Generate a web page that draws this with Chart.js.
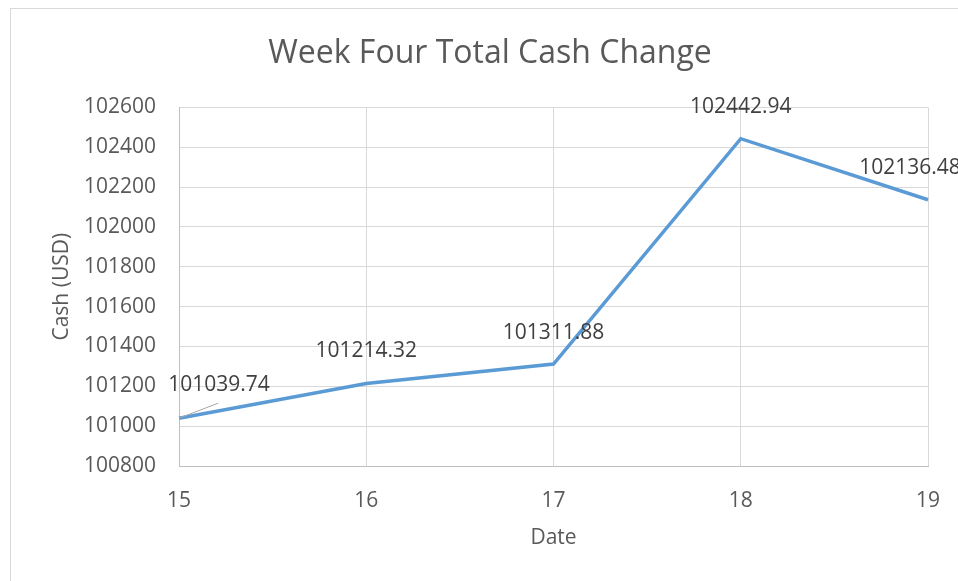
<!DOCTYPE html>
<html>
<head>
<meta charset="utf-8">
<script src="https://cdn.jsdelivr.net/npm/chart.js@4/dist/chart.umd.min.js"></script>
<style>
  html, body { margin: 0; padding: 0; background: #fff; overflow: hidden; }
  .frame { position: absolute; left: 10px; top: 8px; width: 960px; height: 600px; border: 1px solid #d9d9d9; box-sizing: border-box; }
  .frame canvas { position: absolute; left: -1px; top: -1px; }
</style>
</head>
<body>
<div class="frame"><canvas id="chart" width="960" height="580"></canvas></div>
<script>
const dates = [15, 16, 17, 18, 19];
const cash = [101039.74, 101214.32, 101311.88, 102442.94, 102136.48];
const chartTitle = 'Week Four Total Cash Change';
const xTitle = 'Date';
const yTitle = 'Cash (USD)';

// where each value label sits relative to its point (Excel moved the first one)
const labelOffsets = [[40, -33], [0, -32], [0, -31], [0, -32], [-18, -32]];

const FONT = "'Open Sans', sans-serif";

const valueLabels = {
  id: 'valueLabels',
  afterDatasetsDraw(chart) {
    const ctx = chart.ctx;
    const meta = chart.getDatasetMeta(0);
    ctx.save();
    // leader line for the first label
    const p0 = meta.data[0];
    ctx.strokeStyle = '#a6a6a6';
    ctx.lineWidth = 1;
    ctx.beginPath();
    ctx.moveTo(p0.x, p0.y);
    ctx.lineTo(p0.x + 39, p0.y - 15);
    ctx.stroke();

    ctx.font = '21px ' + FONT;
    ctx.fillStyle = '#404040';
    ctx.textAlign = 'center';
    ctx.textBaseline = 'middle';
    meta.data.forEach((pt, i) => {
      const [dx, dy] = labelOffsets[i];
      ctx.fillText(cash[i].toFixed(2), pt.x + dx, pt.y + dy);
    });
    ctx.restore();
  }
};

new Chart(document.getElementById('chart'), {
  type: 'line',
  data: {
    datasets: [{
      data: dates.map((d, i) => ({ x: d, y: cash[i] })),
      borderColor: '#5b9bd5',
      borderWidth: 3.5,
      pointRadius: 0,
      tension: 0,
      clip: false
    }]
  },
  options: {
    responsive: false,
    animation: false,
    layout: { padding: { left: 42, right: 42, top: 0, bottom: 32 } },
    plugins: {
      legend: { display: false },
      tooltip: { enabled: false },
      title: {
        display: true,
        text: chartTitle,
        color: '#595959',
        font: { family: FONT, size: 32, weight: 'normal' },
        padding: { top: 27, bottom: 34 }
      }
    },
    scales: {
      x: {
        type: 'linear',
        min: 15,
        max: 19,
        ticks: { stepSize: 1, color: '#595959', font: { family: FONT, size: 21 }, padding: 22 },
        grid: { color: '#d9d9d9', drawTicks: false },
        border: { color: '#bfbfbf' },
        title: { display: true, text: xTitle, color: '#595959', font: { family: FONT, size: 21 }, padding: { top: 0, bottom: 5 } },
        afterFit(scale) { scale.height = 90; }
      },
      y: {
        min: 100800,
        max: 102600,
        ticks: {
          stepSize: 200, color: '#595959', font: { family: FONT, size: 21 }, padding: 23,
          callback: v => String(v)
        },
        grid: { color: '#d9d9d9', drawTicks: false },
        border: { color: '#bfbfbf' },
        title: { display: true, text: yTitle, color: '#595959', font: { family: FONT, size: 21 }, padding: { top: -3, bottom: 0 } },
        afterFit(scale) { scale.width = 127; }
      }
    }
  },
  plugins: [valueLabels]
});
</script>
</body>
</html>
